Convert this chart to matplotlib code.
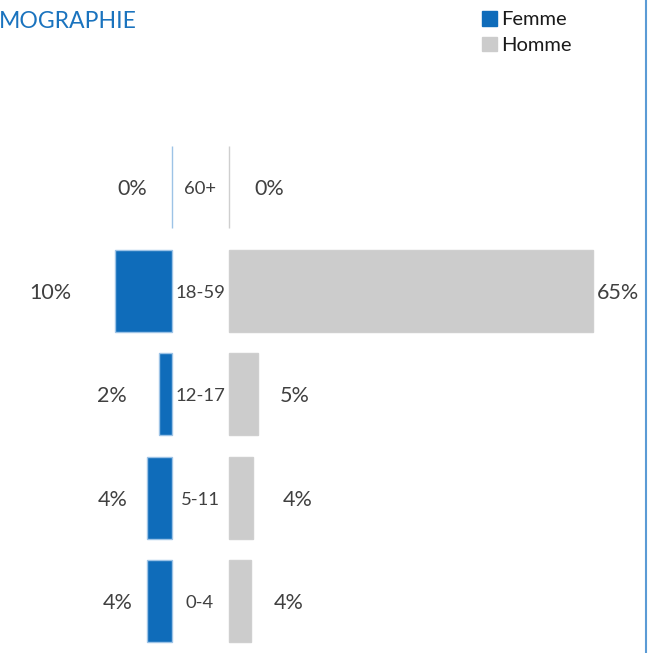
import matplotlib
matplotlib.use("Agg")
import matplotlib.pyplot as plt
from matplotlib.lines import Line2D
from matplotlib.patches import Patch

# data (bottom to top)
ages = ["0-4", "5-11", "12-17", "18-59", "60+"]
femme = [4.4, 4.4, 2.3, 10.2, 0.0]
homme = [3.9, 4.3, 5.2, 65.0, 0.0]

# label gaps in pixels (manual placement as in the original)
femme_gap = [15, 20, 32, 43, 25]
homme_gap = [23, 30, 22, 4, 25]

BLUE = "#0F6CBA"
BLUE_EDGE = "#9DC3E6"
GREY = "#CCCCCC"
GREY_EDGE = "#CFCFCF"
TXT = "#404040"

plt.rcParams["font.family"] = ["Lato", "DejaVu Sans"]

W, H = 651, 653
fig = plt.figure(figsize=(W / 100, H / 100), dpi=100)

PX_PER_PCT = 5.6
ax_bottom = 0.0
ax_height = 517.5 / H
x_zero_left = 172
x_zero_right = 229

axl = fig.add_axes([0, ax_bottom, x_zero_left / W, ax_height])
axr = fig.add_axes([x_zero_right / W, ax_bottom, 1 - x_zero_right / W, ax_height])

y = list(range(len(ages)))
bl = axl.barh(y, femme, height=0.79, color=BLUE, edgecolor=BLUE_EDGE, linewidth=1.0)
br = axr.barh(y, homme, height=0.79, color=GREY, edgecolor=GREY_EDGE, linewidth=1.0)
for p in list(bl) + list(br):
    p.set_clip_on(False)

axl.set_xlim(x_zero_left / PX_PER_PCT, 0)
axr.set_xlim(0, (W - x_zero_right) / PX_PER_PCT)
for ax in (axl, axr):
    ax.set_ylim(-0.5, len(ages) - 0.5)
    ax.axis("off")

for i, (f, h) in enumerate(zip(femme, homme)):
    axl.annotate(f"{round(f)}%", (f, i), xytext=(-femme_gap[i] * 0.72, -1.5),
                 textcoords="offset points", ha="right", va="center",
                 fontsize=15.5, color=TXT)
    axr.annotate(f"{round(h)}%", (h, i), xytext=(homme_gap[i] * 0.72, -1.5),
                 textcoords="offset points", ha="left", va="center",
                 fontsize=15.5, color=TXT)
    # age class label in the gap between the two halves
    axr.annotate(ages[i], (0, i), xytext=(-(x_zero_right - 200) * 0.72, -1.5),
                 textcoords="offset points", ha="center", va="center",
                 fontsize=13.3, color=TXT)

fig.text(-0.002, 1 - 22 / H, "MOGRAPHIE", ha="left", va="center",
         fontsize=16.6, color="#1A73BE")

handles = [Patch(facecolor=BLUE, edgecolor=BLUE, label="Femme"),
           Patch(facecolor=GREY, edgecolor=GREY, label="Homme")]
fig.legend(handles=handles, loc="upper left", bbox_to_anchor=(474 / W, 1 - 3 / H),
           frameon=False, fontsize=14.5, handlelength=0.75, handleheight=0.75,
           handletextpad=0.2, labelspacing=0.4, borderaxespad=0,
           labelcolor="#1A1A1A")

fig.add_artist(Line2D([646 / W, 646 / W], [0, 1], transform=fig.transFigure,
                      color="#5B9BD5", linewidth=1.5))

fig.savefig("out.png", dpi=100)
